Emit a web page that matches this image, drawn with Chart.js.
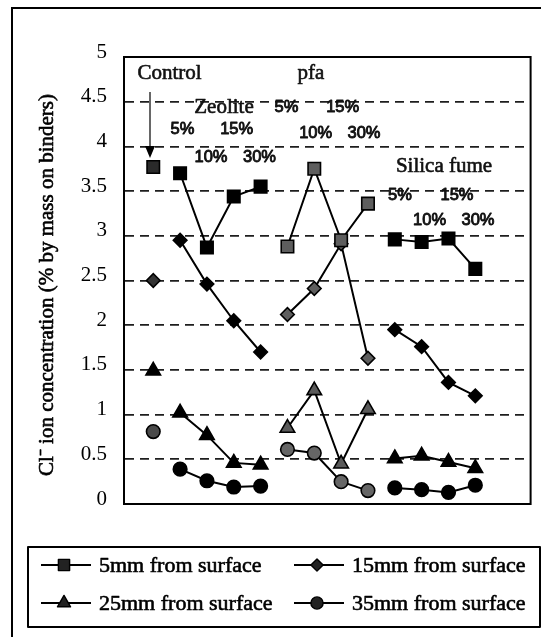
<!DOCTYPE html>
<html>
<head>
<meta charset="utf-8">
<script src="https://cdn.jsdelivr.net/npm/chart.js@4"></script>
<style>
  body { margin: 0; background: #fff; }
  #wrap { width: 541px; height: 637px; }
</style>
</head>
<body>
<div id="wrap"><canvas id="cntCloruros" width="541" height="637"></canvas></div>
<script>
// mixes along the x axis, one group per binder
const categories = ['Control',
  'Zeolite 5%', 'Zeolite 10%', 'Zeolite 15%', 'Zeolite 30%',
  'pfa 5%', 'pfa 10%', 'pfa 15%', 'pfa 30%',
  'Silica fume 5%', 'Silica fume 10%', 'Silica fume 15%', 'Silica fume 30%'];
const groupOf = [0, 1, 1, 1, 1, 2, 2, 2, 2, 3, 3, 3, 3];

// Cl- concentration (% by mass on binders) at each depth
const depth5mm  = [3.77, 3.70, 2.87, 3.44, 3.55, 2.88, 3.75, 2.95, 3.36, 2.96, 2.93, 2.97, 2.63];
const depth15mm = [2.50, 2.95, 2.46, 2.05, 1.70, 2.12, 2.41, 2.91, 1.63, 1.95, 1.76, 1.36, 1.21];
const depth25mm = [1.49, 1.02, 0.77, 0.46, 0.44, 0.85, 1.27, 0.45, 1.06, 0.51, 0.54, 0.47, 0.40];
const depth35mm = [0.81, 0.39, 0.26, 0.19, 0.20, 0.61, 0.57, 0.25, 0.15, 0.18, 0.16, 0.13, 0.21];

const seriesNames = ['5mm from surface', '15mm from surface', '25mm from surface', '35mm from surface'];
const yTicks = [0, 0.5, 1, 1.5, 2, 2.5, 3, 3.5, 4, 4.5, 5];

const groupNames = ['Control', 'Zeolite', 'pfa', 'Silica fume'];
const pctLabels = ['5%', '10%', '15%', '30%'];

const SERIF = '"Liberation Serif", "Times New Roman", serif';
const SANS = '"Liberation Sans", Arial, sans-serif';

// one line per group: a null point breaks the line between groups
function armarSerie(valores) {
  const out = [];
  valores.forEach(function(v, i) {
    if (i > 0 && groupOf[i] !== groupOf[i - 1]) out.push({x: i - 0.5, y: null});
    out.push({x: i, y: v});
  });
  return out;
}

// control and pfa markers are grey shaded, the rest solid black
function colorPunto(ctx, control, pfa) {
  const i = ctx.raw ? ctx.raw.x : 0;
  const g = groupOf[i];
  if (g === 0) return control;
  if (g === 2) return pfa;
  return '#000';
}

const estilos = [
  {pointStyle: 'rect', radius: 8.8, control: '#2a2a2a', pfa: '#5e5e5e'},
  {pointStyle: 'rectRot', radius: 6.8, control: '#333', pfa: '#5e5e5e'},
  {pointStyle: 'triangle', radius: 8.4, control: '#000', pfa: '#5a5a5a'},
  {pointStyle: 'circle', radius: 6.8, control: '#4a4a4a', pfa: '#666'}
];

const datasets = [depth5mm, depth15mm, depth25mm, depth35mm].map(function(vals, k) {
  const e = estilos[k];
  return {
    label: seriesNames[k],
    data: armarSerie(vals),
    borderColor: '#000',
    borderWidth: 2,
    tension: 0,
    spanGaps: false,
    pointStyle: e.pointStyle,
    pointRadius: e.radius,
    pointHoverRadius: e.radius,
    pointBorderColor: '#000',
    pointBorderWidth: 1.6,
    pointBackgroundColor: function(ctx) { return colorPunto(ctx, e.control, e.pfa); }
  };
});

// labels over the groups (pixel positions)
const notas = [
  [groupNames[0], 169.5, 73, SERIF], [groupNames[2], 311, 73, SERIF],
  [groupNames[1], 224, 107, SERIF], [groupNames[3], 444, 166, SERIF],
  [pctLabels[0], 182.5, 129, SANS], [pctLabels[2], 236.7, 129, SANS],
  [pctLabels[1], 211, 157, SANS], [pctLabels[3], 259.5, 157, SANS],
  [pctLabels[0], 286.4, 107, SANS], [pctLabels[2], 342.7, 107, SANS],
  [pctLabels[1], 315.7, 133, SANS], [pctLabels[3], 364, 133, SANS],
  [pctLabels[0], 400, 195, SANS], [pctLabels[2], 457, 195, SANS],
  [pctLabels[1], 429.6, 220, SANS], [pctLabels[3], 478, 220, SANS]
];

// text with a thin outline so it reads as heavy as the printed labels
function textoGrueso(ctx, txt, x, y, grosor) {
  ctx.lineWidth = grosor;
  ctx.strokeStyle = ctx.fillStyle;
  ctx.lineJoin = 'round';
  ctx.strokeText(txt, x, y);
  ctx.fillText(txt, x, y);
}

function marcador(ctx, estilo, x, y, r, fill) {
  ctx.save();
  ctx.fillStyle = fill;
  ctx.strokeStyle = '#000';
  ctx.lineWidth = 1.4;
  ctx.beginPath();
  if (estilo === 'rect') {
    const s = r * Math.SQRT1_2;
    ctx.rect(x - s, y - s, 2 * s, 2 * s);
  } else if (estilo === 'rectRot') {
    ctx.moveTo(x, y - r); ctx.lineTo(x + r, y); ctx.lineTo(x, y + r); ctx.lineTo(x - r, y);
    ctx.closePath();
  } else if (estilo === 'triangle') {
    for (let a = 0; a < 3; a++) {
      const ang = -Math.PI / 2 + a * 2 * Math.PI / 3;
      const px = x + Math.cos(ang) * r, py = y + Math.sin(ang) * r;
      if (a === 0) ctx.moveTo(px, py); else ctx.lineTo(px, py);
    }
    ctx.closePath();
  } else {
    ctx.arc(x, y, r, 0, Math.PI * 2);
  }
  ctx.fill();
  ctx.stroke();
  ctx.restore();
}

const decorado = {
  id: 'decorado',
  beforeDatasetsDraw(chart) {
    const a = chart.chartArea;
    const ctx = chart.ctx;
    ctx.save();
    ctx.strokeStyle = '#000';
    ctx.lineWidth = 2;
    ctx.strokeRect(a.left, a.top, a.right - a.left, a.bottom - a.top);
    ctx.restore();
  },
  afterDraw(chart) {
    const ctx = chart.ctx;
    ctx.save();

    // outer frame
    ctx.strokeStyle = '#000';
    ctx.lineWidth = 2;
    ctx.strokeRect(12, 8, 620, 700);

    // axis title
    ctx.save();
    ctx.translate(47, 285);
    ctx.rotate(-Math.PI / 2);
    ctx.fillStyle = '#000';
    ctx.font = '21px ' + SERIF;
    ctx.textAlign = 'center';
    ctx.textBaseline = 'middle';
    textoGrueso(ctx, 'Cl\u207B ion concentration (% by mass on binders)', 0, 0, 0.6);
    ctx.restore();

    // group and percentage labels
    ctx.fillStyle = '#111';
    ctx.textAlign = 'center';
    ctx.textBaseline = 'middle';
    notas.forEach(function(n) {
      ctx.font = (n[3] === SERIF ? '21px ' : '16.5px ') + n[3];
      textoGrueso(ctx, n[0], n[1], n[2], n[3] === SERIF ? 0.6 : 0.9);
    });

    // arrow from "Control" down to its point
    ctx.strokeStyle = '#000';
    ctx.lineWidth = 1.2;
    ctx.beginPath();
    ctx.moveTo(150, 92);
    ctx.lineTo(150, 148);
    ctx.stroke();
    ctx.fillStyle = '#000';
    ctx.beginPath();
    ctx.moveTo(145, 146);
    ctx.lineTo(155, 146);
    ctx.lineTo(150, 158);
    ctx.closePath();
    ctx.fill();

    // legend
    ctx.strokeStyle = '#000';
    ctx.lineWidth = 2;
    ctx.strokeRect(28, 547, 512, 80);
    const pos = [[41, 565], [294, 565], [41, 603], [294, 603]];
    chart.data.datasets.forEach(function(ds, k) {
      const x = pos[k][0], y = pos[k][1];
      ctx.strokeStyle = '#000';
      ctx.lineWidth = 2;
      ctx.beginPath();
      ctx.moveTo(x, y);
      ctx.lineTo(x + 50, y);
      ctx.stroke();
      marcador(ctx, estilos[k].pointStyle, x + 23, y, estilos[k].radius * 0.9, '#222');
      ctx.fillStyle = '#000';
      ctx.font = '22px ' + SERIF;
      ctx.textAlign = 'left';
      ctx.textBaseline = 'middle';
      textoGrueso(ctx, ds.label, x + 58, y + 1, 0.6);
    });

    ctx.restore();
  }
};

const ctx = document.getElementById('cntCloruros').getContext('2d');
window.grafCloruros = new Chart(ctx, {
  type: 'line',
  data: { datasets: datasets },
  plugins: [decorado],
  options: {
    responsive: false,
    animation: false,
    layout: { padding: { left: 0, right: 9, top: 57, bottom: 133 } },
    plugins: {
      legend: { display: false },
      tooltip: { enabled: false }
    },
    scales: {
      x: {
        type: 'linear',
        min: -1.09,
        max: 14.06,
        display: false
      },
      y: {
        min: yTicks[0],
        max: yTicks[yTicks.length - 1],
        afterBuildTicks: function(scale) {
          scale.ticks = yTicks.map(function(v) { return {value: v}; });
        },
        afterFit: function(scale) { scale.width = 124; },
        ticks: {
          color: '#000',
          font: { family: SERIF, size: 21 },
          padding: 17,
          labelOffset: -5,
          callback: function(v) { return String(v); }
        },
        grid: {
          drawTicks: false,
          color: '#1e1e1e',
          lineWidth: 1.7
        },
        border: {
          display: true,
          color: '#000',
          width: 2,
          dash: [9, 6]
        }
      }
    }
  }
});
</script>
</body>
</html>
